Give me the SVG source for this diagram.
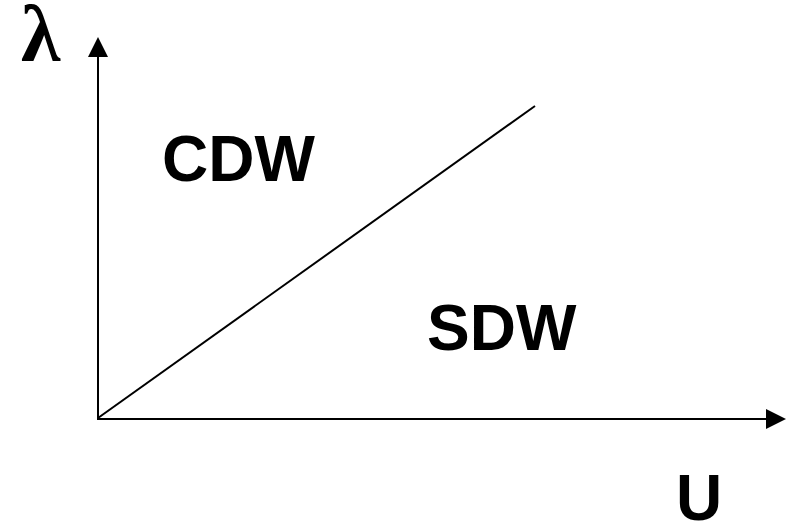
<svg xmlns="http://www.w3.org/2000/svg" width="792" height="524" viewBox="0 0 792 524">
<style>
.lbl{font-family:"Liberation Sans",Arial,sans-serif;font-weight:bold;font-size:64px;fill:#000}
.ax{stroke:#000;stroke-width:2;fill:none}
</style>
<rect width="792" height="524" fill="#fff"/>
<g id="connectors">
<line class="ax" x1="98" y1="419" x2="98" y2="56"/>
<polygon points="98,37 88,57 108,57" fill="#000"/>
<line class="ax" x1="97" y1="419" x2="767" y2="419"/>
<polygon points="786,419 766,409 766,429" fill="#000"/>
<line class="ax" x1="98" y1="418" x2="535" y2="106" stroke-width="1.6"/>
</g>
<g id="lambda"><text x="21" y="61" font-family="'Liberation Serif','Times New Roman',serif" font-weight="bold" font-size="80">λ</text></g>
<g id="cdw"><text class="lbl" x="162" y="181">CDW</text></g>
<g id="sdw"><text class="lbl" x="427" y="350">SDW</text></g>
<g id="u"><text class="lbl" x="676" y="520">U</text></g>
</svg>
